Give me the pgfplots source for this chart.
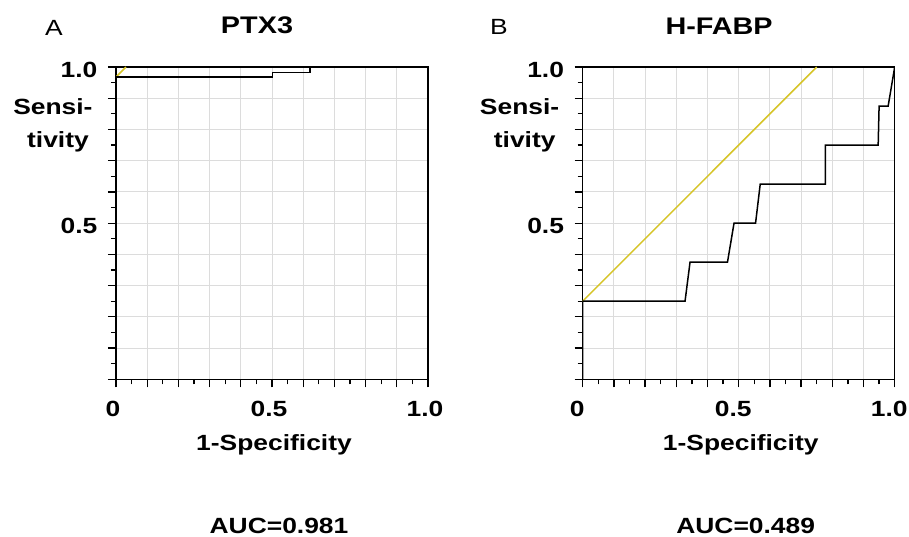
\documentclass[border=0pt]{standalone}
\usepackage{fontspec}
\setmainfont{Liberation Sans}[FakeStretch=1.2]
\usepackage{pgfplots}
\pgfplotsset{compat=1.18}
\definecolor{rocyellow}{RGB}{214,196,40}
\definecolor{gridgray}{RGB}{220,220,220}
\pgfplotsset{
  rocstyle/.style={
    scale only axis, width=312pt, height=312.3pt,
    anchor=south west,
    xmin=0, xmax=1, ymin=0, ymax=1,
    axis line style={line width=1.5pt, black},
    xtick={0,0.1,0.2,0.3,0.4,0.5,0.6,0.7,0.8,0.9,1},
    ytick={0,0.1,0.2,0.3,0.4,0.5,0.6,0.7,0.8,0.9,1},
    xticklabels={0,,,,,0.5,,,,,1.0},
    yticklabels={,,,,,0.5,,,,,1.0},
    minor x tick num=1, minor y tick num=1,
    tick align=outside, xtick pos=left, ytick pos=left,
    major tick length=8pt, minor tick length=5pt,
    every tick/.style={line width=1.3pt, black},
    grid=major,
    major grid style={line width=1pt, gridgray},
    /pgf/number format/assume math mode=true,
    tick label style={font=\bfseries\fontsize{22}{26}\selectfont, inner sep=0pt},
    xticklabel style={anchor=north, yshift=-14pt},
    yticklabel style={anchor=east, xshift=-10.5pt, yshift=-3pt},
    title style={at={(rel axis cs:0.5,1)}, anchor=base, inner sep=0pt,
      font=\bfseries\fontsize{24}{28}\selectfont},
    xlabel style={at={(rel axis cs:0.5,0)}, anchor=base, inner sep=0pt,
      yshift=-71.4pt, xshift=2pt, font=\bfseries\fontsize{22}{26}\selectfont},
    every axis y label/.style={at={(rel axis cs:0,1)}, anchor=north east,
      inner sep=0pt, align=right, xshift=-23.3pt, yshift=-31.3pt,
      font=\bfseries\fontsize{22}{33.4}\selectfont},
    ylabel={Sensi-\\tivity\rule{3.7pt}{0pt}},
    xlabel={1-Specificity},
  }
}
\begin{document}
\begin{tikzpicture}
\useasboundingbox (0,0) rectangle (909pt,-537pt);
% Panel A
\begin{axis}[rocstyle, at={(116pt,-379.3pt)}, title={PTX3},
  title style={xshift=-15pt, yshift=27.7pt},
  xticklabel style={xshift=-3pt}]
\addplot[rocyellow, line width=1.5pt] coordinates {(0,0.968) (0.032,1.0)};
\addplot[black, line width=1.5pt] coordinates {
  (0,0) (0,0.968) (0.502,0.968) (0.502,0.983) (0.622,0.983) (0.622,1.0) (1.0,1.0)};
\end{axis}
% Panel B
\begin{axis}[rocstyle, at={(582.7pt,-379.3pt)}, title={H-FABP},
  title style={xshift=-19.6pt, yshift=26.3pt},
  xticklabel style={xshift=-5.5pt}]
\addplot[rocyellow, line width=1.5pt] coordinates {(0,0.25) (0.75,1.0)};
\addplot[black, line width=1.5pt] coordinates {
  (0,0) (0,0.25) (0.328,0.25) (0.344,0.375) (0.464,0.375) (0.485,0.5)
  (0.554,0.5) (0.569,0.625) (0.778,0.625) (0.778,0.75) (0.947,0.75)
  (0.950,0.875) (0.979,0.875) (1.0,1.0)};
\end{axis}
\node[anchor=base, inner sep=0pt, font=\fontsize{22}{26}\selectfont] at (54pt,-36pt) {A};
\node[anchor=base, inner sep=0pt, font=\fontsize{22}{26}\selectfont] at (499pt,-35pt) {B};
\node[anchor=base, inner sep=0pt, font=\bfseries\fontsize{22}{26}\selectfont] at (279pt,-533pt) {AUC=0.981};
\node[anchor=base, inner sep=0pt, font=\bfseries\fontsize{22}{26}\selectfont] at (745.7pt,-533pt) {AUC=0.489};
\end{tikzpicture}
\end{document}
